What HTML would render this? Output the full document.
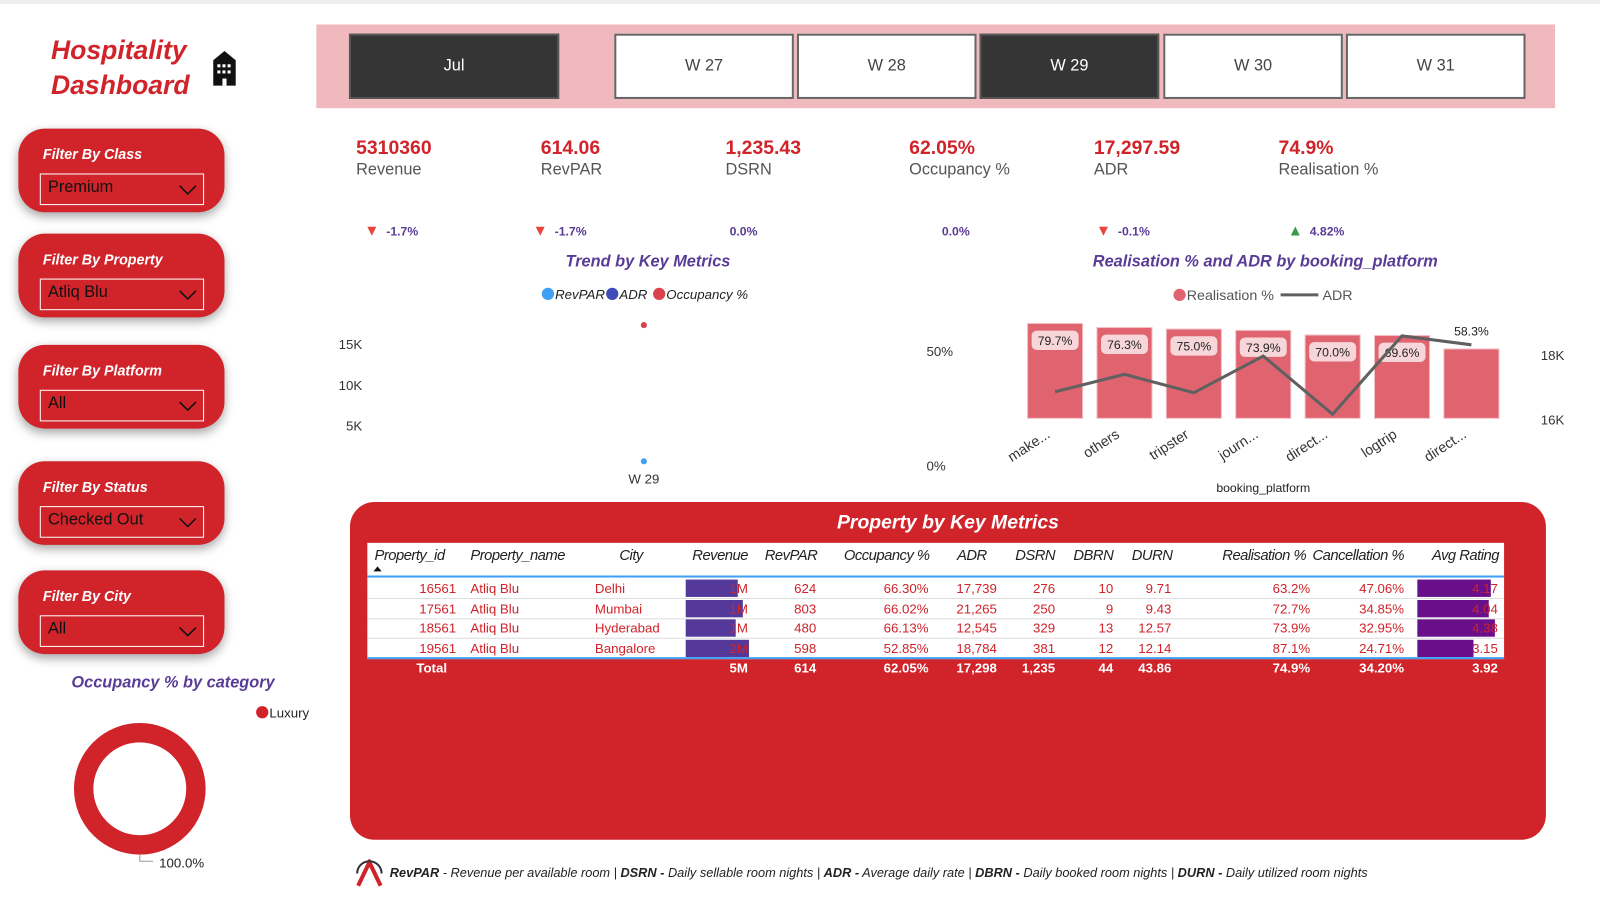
<!DOCTYPE html>
<html><head><meta charset="utf-8">
<style>
*{box-sizing:border-box;margin:0;padding:0}
body{width:1600px;height:900px;background:#fff;position:relative;overflow:hidden;font-family:"Liberation Sans Narrow","Liberation Sans",sans-serif;}
#root{position:absolute;left:0;top:0;width:1568px;height:882px;transform:scale(1.0204);transform-origin:0 0}
.abs{position:absolute}
.topbar{left:0;top:0;width:1568px;height:4px;background:#eee}
.title{left:50px;top:32px;color:#d0232a;font-weight:bold;font-style:italic;font-size:26px;line-height:34px}
.slicer{left:310px;top:24px;width:1214px;height:82px;background:#efb9bd}
.btn{top:33px;height:64px;border:2px solid #666;background:#fff;color:#444;font-size:16px;display:flex;align-items:center;justify-content:center}
.btn.dark{background:#353535;color:#fff;border-color:#555}
.filter{left:18px;width:202px;height:82px;background:#d0232a;border-radius:26px;box-shadow:0 4px 10px rgba(0,0,0,.35)}
.filter .lb{position:absolute;left:24px;top:17px;color:#fff;font-style:italic;font-weight:bold;font-size:14px}
.filter .dd{position:absolute;left:21px;top:44px;width:161px;height:31px;border:1.5px solid #fff;color:#111;font-size:16px;padding:4px 7px}
.filter .dd svg{position:absolute;right:6px;top:10px}
.kv{color:#d0232a;font-weight:bold;font-size:19px}
.kl{color:#555;font-size:16px;margin-top:1px}
.delta{font-size:12px;font-weight:bold;color:#5a3c96}
.ctitle{color:#5a3c96;font-style:italic;font-size:16px;font-weight:bold}
.tbl{left:343px;top:492px;width:1172px;height:331px;background:#d0232a;border-radius:24px}
.cell{position:absolute;font-size:13px;color:#d0232a;white-space:nowrap}
.hd{position:absolute;font-size:14.5px;font-style:italic;color:#222;white-space:nowrap;letter-spacing:-0.5px}
.tot{position:absolute;font-size:13px;font-weight:bold;color:#fff;white-space:nowrap}
</style></head><body>
<div id="root">
<div class="abs topbar"></div>
<div class="abs title">Hospitality<br>Dashboard</div>
<svg class="abs" style="left:207px;top:50px" width="26" height="34"><polygon points="13,0 2,9 2,34 24,34 24,9" fill="#111"/><g fill="#fff"><rect x="6" y="13" width="3" height="3"/><rect x="11" y="13" width="3" height="3"/><rect x="16" y="13" width="3" height="3"/><rect x="6" y="19" width="3" height="3"/><rect x="11" y="19" width="3" height="3"/><rect x="16" y="19" width="3" height="3"/><rect x="11" y="27" width="4" height="7"/></g></svg>

<div class="abs slicer"></div>
<div class="abs btn dark" style="left:342px;width:206px">Jul</div>
<div class="abs btn" style="left:602px;width:176px">W 27</div>
<div class="abs btn" style="left:781px;width:176px">W 28</div>
<div class="abs btn dark" style="left:960px;width:176px">W 29</div>
<div class="abs btn" style="left:1140px;width:176px">W 30</div>
<div class="abs btn" style="left:1319px;width:176px">W 31</div>

<div class="abs filter" style="top:126px"><div class="lb">Filter By Class</div><div class="dd">Premium<svg width="18" height="11"><polyline points="1,1 9,9 17,1" fill="none" stroke="#111" stroke-width="1.5"/></svg></div></div>
<div class="abs filter" style="top:229px"><div class="lb">Filter By Property</div><div class="dd">Atliq Blu<svg width="18" height="11"><polyline points="1,1 9,9 17,1" fill="none" stroke="#111" stroke-width="1.5"/></svg></div></div>
<div class="abs filter" style="top:338px"><div class="lb">Filter By Platform</div><div class="dd">All<svg width="18" height="11"><polyline points="1,1 9,9 17,1" fill="none" stroke="#111" stroke-width="1.5"/></svg></div></div>
<div class="abs filter" style="top:452px"><div class="lb">Filter By Status</div><div class="dd">Checked Out<svg width="18" height="11"><polyline points="1,1 9,9 17,1" fill="none" stroke="#111" stroke-width="1.5"/></svg></div></div>
<div class="abs filter" style="top:559px"><div class="lb">Filter By City</div><div class="dd">All<svg width="18" height="11"><polyline points="1,1 9,9 17,1" fill="none" stroke="#111" stroke-width="1.5"/></svg></div></div>

<div class="abs" style="left:349px;top:135px"><div class="kv">5310360</div><div class="kl">Revenue</div></div>
<div class="abs" style="left:530px;top:135px"><div class="kv">614.06</div><div class="kl">RevPAR</div></div>
<div class="abs" style="left:711px;top:135px"><div class="kv">1,235.43</div><div class="kl">DSRN</div></div>
<div class="abs" style="left:891px;top:135px"><div class="kv">62.05%</div><div class="kl">Occupancy %</div></div>
<div class="abs" style="left:1072px;top:135px"><div class="kv">17,297.59</div><div class="kl">ADR</div></div>
<div class="abs" style="left:1253px;top:135px"><div class="kv">74.9%</div><div class="kl">Realisation %</div></div>

<div class="abs delta" style="left:357px;top:218px"><span style="color:#e8463b;font-size:15px">▼</span>&nbsp; -1.7%</div>
<div class="abs delta" style="left:522px;top:218px"><span style="color:#e8463b;font-size:15px">▼</span>&nbsp; -1.7%</div>
<div class="abs delta" style="left:715px;top:220px">0.0%</div>
<div class="abs delta" style="left:923px;top:220px">0.0%</div>
<div class="abs delta" style="left:1074px;top:218px"><span style="color:#e8463b;font-size:15px">▼</span>&nbsp; -0.1%</div>
<div class="abs delta" style="left:1262px;top:218px"><span style="color:#3a9a4a;font-size:15px">▲</span>&nbsp; 4.82%</div>

<div class="abs ctitle" style="left:535px;top:248px;width:200px;text-align:center">Trend by Key Metrics</div>
<svg class="abs" style="left:314px;top:270px" width="580" height="215" id="trend"></svg>

<div class="abs ctitle" style="left:1040px;top:248px;width:400px;text-align:center">Realisation % and ADR by booking_platform</div>
<svg class="abs" style="left:900px;top:270px" width="668" height="225" id="combo"></svg>

<div class="abs ctitle" style="left:70px;top:661px">Occupancy % by category</div>
<svg class="abs" style="left:0;top:680px" width="330" height="180">
<circle cx="257" cy="18" r="6" fill="#d0232a"/>
<text x="264" y="23" font-size="13" fill="#222">Luxury</text>
<circle cx="137" cy="93" r="55" fill="none" stroke="#d0232a" stroke-width="19"/>
<polyline points="137,157 137,164 150,164" fill="none" stroke="#999"/>
<text x="156" y="170" font-size="13" fill="#222">100.0%</text>
</svg>

<div class="abs tbl"></div>
<div class="abs" style="left:343px;top:502px;width:1172px;text-align:center;color:#fff;font-size:19px;font-style:italic;font-weight:bold">Property by Key Metrics</div>
<div class="abs" style="left:360px;top:532px;width:1114px;height:113px;background:#fff"></div>

<div class="abs" style="left:348px;top:842px;font-size:12.5px;font-style:italic;color:#222;white-space:nowrap"><svg width="28" height="28" style="vertical-align:middle;margin-right:6px"><path d="M3,26 L14,3 L25,26" fill="none" stroke="#d0232a" stroke-width="4"/><path d="M2,14 A12,12 0 0 1 26,14" fill="none" stroke="#333" stroke-width="2"/></svg><b>RevPAR</b> - Revenue per available room | <b>DSRN -</b> Daily sellable room nights | <b>ADR -</b> Average daily rate | <b>DBRN -</b> Daily booked room nights | <b>DURN -</b> Daily utilized room nights</div>
</div>
<script>
const NS='http://www.w3.org/2000/svg';
function mk(p,t,a){const e=document.createElementNS(NS,t);for(const k in a)e.setAttribute(k,a[k]);p.appendChild(e);return e;}
const trendCats=['W 29'];
const trendRevpar=[614];
const trendAdr=[17298];
const trendTicks=[5000,10000,15000];
const trendTickLabels=['5K','10K','15K'];
(function(){
 const s=document.getElementById('trend');
 const y=v=>187-v*0.008, x=i=>317+i*60;
 [['#3fa0f5','RevPAR',223],['#3f4bb8','ADR',286],['#d9434e','Occupancy %',332]].forEach(l=>{
  const c=mk(s,'circle',{cx:l[2],cy:18,r:6,fill:l[0]});
  
  
  const t=mk(s,'text',{x:l[2]+7,y:23,'font-size':13,'font-style':'italic',fill:'#222'});t.textContent=l[1];
  
  
 });
 trendTicks.forEach((v,i)=>{const t=mk(s,'text',{x:41,y:y(v)+5,'font-size':13,fill:'#333','text-anchor':'end'});t.textContent=trendTickLabels[i];
  
  });
 trendCats.forEach((c,i)=>{
  const t=mk(s,'text',{x:x(i),y:204,'font-size':13,fill:'#333','text-anchor':'middle'});t.textContent=c;
  
  
  const a=mk(s,'circle',{cx:x(i),cy:y(trendAdr[i]),r:3,fill:'#d9434e'});
  
  
  const r=mk(s,'circle',{cx:x(i),cy:y(trendRevpar[i]),r:3,fill:'#3fa0f5'});
  
  
 });
})();
const platforms=['make...','others','tripster','journ...','direct...','logtrip','direct...'];
const realisation=[79.7,76.3,75.0,73.9,70.0,69.6,58.3];
const adrValues=[16860,17400,16830,17970,16160,18600,18320];
const leftTickLabels=['0%','50%'];
const rightTickLabels=['16K','18K'];
(function(){
 const s=document.getElementById('combo');
 const bx=i=>134+i*68, by=v=>140-v*1.167, ay=v=>78-(v-18000)*0.0315;
 const c0=mk(s,'circle',{cx:256,cy:19,r:6,fill:'#e06470'});
 
 
 const t0=mk(s,'text',{x:263,y:24,'font-size':14,fill:'#555'});t0.textContent='Realisation %';
 
 
 const l0=mk(s,'line',{x1:355,y1:19,x2:392,y2:19,stroke:'#606060','stroke-width':3});
 
 
 const t1=mk(s,'text',{x:396,y:24,'font-size':14,fill:'#555'});t1.textContent='ADR';
 
 
 [[0,191],[50,79]].forEach((p,i)=>{const t=mk(s,'text',{x:8,y:p[1],'font-size':13,fill:'#333'});t.textContent=leftTickLabels[i];
  
  });
 [16000,18000].forEach((v,i)=>{const t=mk(s,'text',{x:610,y:ay(v)+5,'font-size':13,fill:'#333'});t.textContent=rightTickLabels[i];
  
  });
 realisation.forEach((v,i)=>{
  const r=mk(s,'rect',{x:bx(i)-27,y:by(v),width:54,height:140-by(v),fill:'#e06470',stroke:'#f4c0c4'});
  
  
  const lab=v.toFixed(1)+'%';
  if(i<platforms.length-1){
   const b=mk(s,'rect',{x:bx(i)-23,y:by(v)+7,width:46,height:19,rx:5,fill:'#f7d6d9'});
   
   
   const t=mk(s,'text',{x:bx(i),y:by(v)+21,'font-size':12,fill:'#222','text-anchor':'middle'});t.textContent=lab;
   
   
  } else {
   const t=mk(s,'text',{x:bx(i),y:by(v)-13,'font-size':12,fill:'#222','text-anchor':'middle'});t.textContent=lab;
   
   
  }
  const xl=mk(s,'text',{x:bx(i)-4,y:158,'font-size':14,fill:'#333','text-anchor':'end',transform:`rotate(-33 ${bx(i)-4} 158)`});xl.textContent=platforms[i];
  
  
 });
 const pl=mk(s,'polyline',{points:adrValues.map((v,i)=>bx(i)+','+ay(v)).join(' '),fill:'none',stroke:'#606060','stroke-width':3});
 
 
 const xt=mk(s,'text',{x:338,y:212,'font-size':12,fill:'#222','text-anchor':'middle'});xt.textContent='booking_platform';
 
 
})();
const headers=['Property_id','Property_name','City','Revenue','RevPAR','Occupancy %','ADR','DSRN','DBRN','DURN','Realisation %','Cancellation %','Avg Rating'];
const rows=[
 ['16561','Atliq Blu','Delhi','1M','624','66.30%','17,739','276','10','9.71','63.2%','47.06%','4.17'],
 ['17561','Atliq Blu','Mumbai','1M','803','66.02%','21,265','250','9','9.43','72.7%','34.85%','4.04'],
 ['18561','Atliq Blu','Hyderabad','1M','480','66.13%','12,545','329','13','12.57','73.9%','32.95%','4.38'],
 ['19561','Atliq Blu','Bangalore','2M','598','52.85%','18,784','381','12','12.14','87.1%','24.71%','3.15']];
const revenueVals=[1.24,1.37,1.19,1.51];
const ratingVals=[4.17,4.04,4.38,3.15];
const totals=['Total','','','5M','614','62.05%','17,298','1,235','44','43.86','74.9%','34.20%','3.92'];
(function(){
 const T=document.getElementById('root');
 const rx=[447,0,0,733,800,910,977,1034,1091,1148,1284,1376,1468];
 const hx=[0,0,0,733,801,911,967,1034,1091,1149,1280,1376,1469];
 const lx=[367,461,583];
 const hl=[367,461,607];
 function add(d,name){
  
  
  T.appendChild(d);}
 headers.forEach((h,i)=>{const d=document.createElement('div');d.className='hd';d.textContent=h;
  if(i<3)d.style.left=hl[i]+'px';else d.style.right=(1568-hx[i])+'px';d.style.top='537px';
  
  
  T.appendChild(d);});
 const ar=document.createElement('div');ar.className='abs';ar.style.cssText='left:366px;top:555px;width:0;height:0;border-left:4px solid transparent;border-right:4px solid transparent;border-bottom:5px solid #111';
 add(ar,'sort-arrow');
 const ln=document.createElement('div');ln.className='abs';ln.style.cssText='left:360px;top:564px;width:1114px;height:2px;background:#3fa0f5';
 add(ln,'header-rule');
 rows.forEach((r,j)=>{
  const top=567+j*19.6;
  const bar=document.createElement('div');bar.className='abs';
  bar.style.cssText=`left:672px;top:${top+1}px;height:17px;width:${revenueVals[j]/1.51*62}px;background:#55399a`;
  add(bar,'revenue-databar');
  const rb=document.createElement('div');rb.className='abs';
  rb.style.cssText=`left:1389px;top:${top+1}px;height:17px;width:${ratingVals[j]/4.38*76}px;background:#6a0f8a`;
  add(rb,'rating-databar');
  r.forEach((c,i)=>{const d=document.createElement('div');d.className='cell';d.textContent=c;
   if(i===1||i===2)d.style.left=lx[i]+'px';else d.style.right=(1568-rx[i])+'px';
   d.style.top=(top+2)+'px';add(d,'table-cell');});
  const sep=document.createElement('div');sep.className='abs';sep.style.cssText=`left:360px;top:${top+19}px;width:1114px;height:1px;background:#ddd`;
  add(sep,'row-separator');
 });
 const ln2=document.createElement('div');ln2.className='abs';ln2.style.cssText='left:360px;top:644px;width:1114px;height:2px;background:#3fa0f5';
 add(ln2,'total-rule');
 totals.forEach((c,i)=>{if(c==='')return;const d=document.createElement('div');d.className='tot';d.textContent=c;
  if(i===0)d.style.left='408px';else d.style.right=(1568-rx[i])+'px';d.style.top='647px';add(d,'total-cell');});
})();
</script>
</body></html>
